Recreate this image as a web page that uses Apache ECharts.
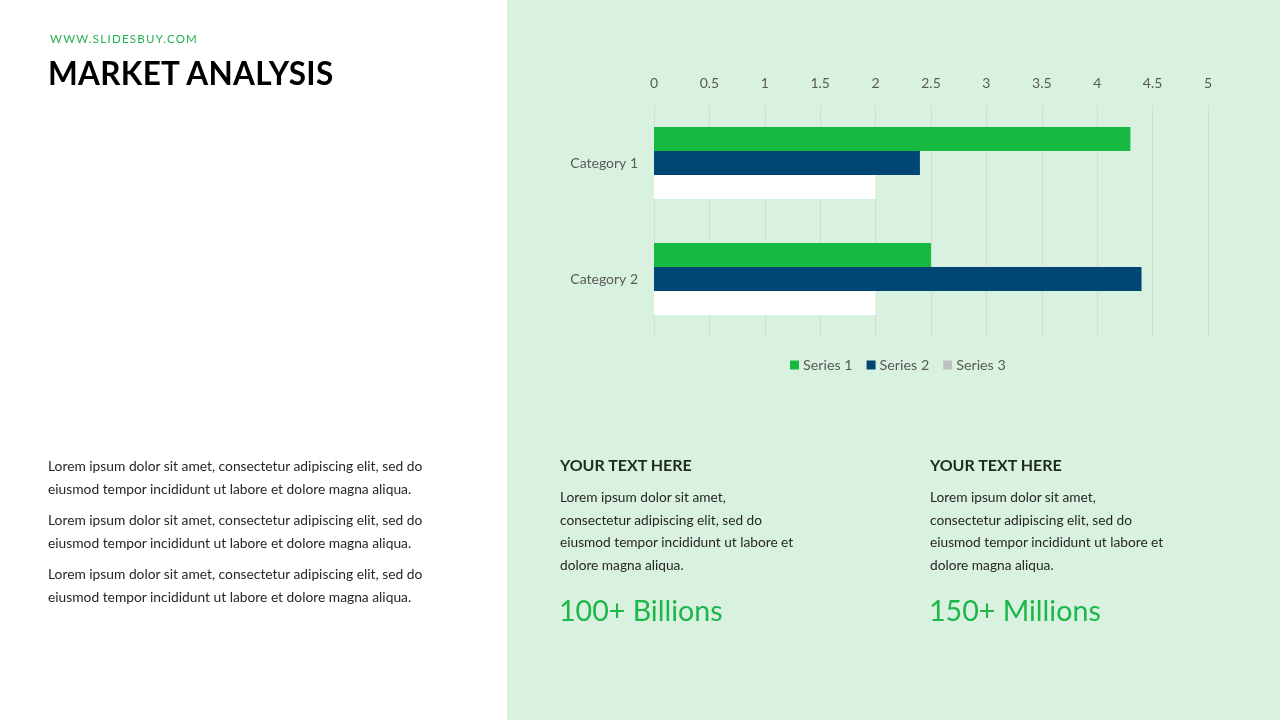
<!DOCTYPE html>
<html>
<head>
<meta charset="utf-8">
<script src="https://cdn.jsdelivr.net/npm/echarts@6/dist/echarts.min.js"></script>
<style>
  html, body { margin:0; padding:0; width:1280px; height:720px; overflow:hidden; background:#fff; font-family: Lato, "Open Sans", sans-serif; }
  #panel { position:absolute; left:507px; top:0; width:773px; height:720px; background:#D9F2DF; }
  #chart { position:absolute; left:0; top:0; width:1280px; height:720px; }
  .t { position:absolute; white-space:nowrap; }
  #site { left:50px; top:32px; font-size:11.5px; letter-spacing:1.25px; color:#22B14C; }
  #title { left:48px; top:54px; font-size:31.5px; font-weight:bold; color:#000; letter-spacing:0.3px; }
  .para { left:48px; font-size:13.8px; line-height:23px; color:#262626; }
  .head { font-size:16px; font-weight:bold; color:#1f2a22; }
  .body { font-size:13.7px; line-height:22.7px; color:#262626; }
  .big { font-size:28.6px; color:#1DB64A; }
</style>
</head>
<body>
<div id="panel"></div>
<div id="chart"></div>
<div class="t" id="site">WWW.SLIDESBUY.COM</div>
<div class="t" id="title">MARKET ANALYSIS</div>
<div class="t para" style="top:454px">Lorem ipsum dolor sit amet, consectetur adipiscing elit, sed do<br>eiusmod tempor incididunt ut labore et dolore magna aliqua.</div>
<div class="t para" style="top:508px">Lorem ipsum dolor sit amet, consectetur adipiscing elit, sed do<br>eiusmod tempor incididunt ut labore et dolore magna aliqua.</div>
<div class="t para" style="top:562px">Lorem ipsum dolor sit amet, consectetur adipiscing elit, sed do<br>eiusmod tempor incididunt ut labore et dolore magna aliqua.</div>

<div class="t head" style="left:560px; top:455px">YOUR TEXT HERE</div>
<div class="t body" style="left:560px; top:486px">Lorem ipsum dolor sit amet,<br>consectetur adipiscing elit, sed do<br>eiusmod tempor incididunt ut labore et<br>dolore magna aliqua.</div>
<div class="t big" style="left:559px; top:593px">100+ Billions</div>

<div class="t head" style="left:930px; top:455px">YOUR TEXT HERE</div>
<div class="t body" style="left:930px; top:486px">Lorem ipsum dolor sit amet,<br>consectetur adipiscing elit, sed do<br>eiusmod tempor incididunt ut labore et<br>dolore magna aliqua.</div>
<div class="t big" style="left:929px; top:593px">150+ Millions</div>

<script>
const categories = ["Category 1", "Category 2"];
const seriesNames = ["Series 1", "Series 2", "Series 3"];
const series1 = [4.3, 2.5];
const series2 = [2.4, 4.4];
const series3 = [2, 2];
const xTicks = { min: 0, max: 5, interval: 0.5 };

const chart = echarts.init(document.getElementById('chart'));
const barColors = ['#17BA40', '#004674', '#FFFFFF'];
const legendColors = ['#17BA40', '#004674', '#BFBFBF'];
const values = [series1, series2, series3];

chart.setOption({
  animation: false,
  backgroundColor: 'transparent',
  textStyle: { fontFamily: 'Lato, sans-serif' },
  grid: { left: 654, right: 72, top: 105, height: 232 },
  xAxis: {
    type: 'value', position: 'top',
    min: xTicks.min, max: xTicks.max, interval: xTicks.interval,
    axisLine: { show: false }, axisTick: { show: false },
    axisLabel: { color: '#595959', fontSize: 14, margin: 15 },
    splitLine: { show: true, lineStyle: { color: '#CFE0D2', width: 1 } }
  },
  yAxis: {
    type: 'category', data: categories, inverse: true,
    axisLine: { show: false }, axisTick: { show: false },
    axisLabel: { color: '#595959', fontSize: 14, margin: 16 }
  },
  legend: {
    left: 785, top: 353, itemWidth: 9, itemHeight: 9, itemGap: 14,
    icon: 'rect',
    textStyle: { color: '#595959', fontSize: 14.3, padding: [0, 0, 0, -1] },
    data: seriesNames.map((n, i) => ({ name: n, itemStyle: { color: legendColors[i] } }))
  },
  series: seriesNames.map((n, i) => ({
    name: n, type: 'bar', data: values[i],
    barWidth: 24, barGap: '0%',
    itemStyle: { color: barColors[i] }
  }))
});
</script>
</body>
</html>
